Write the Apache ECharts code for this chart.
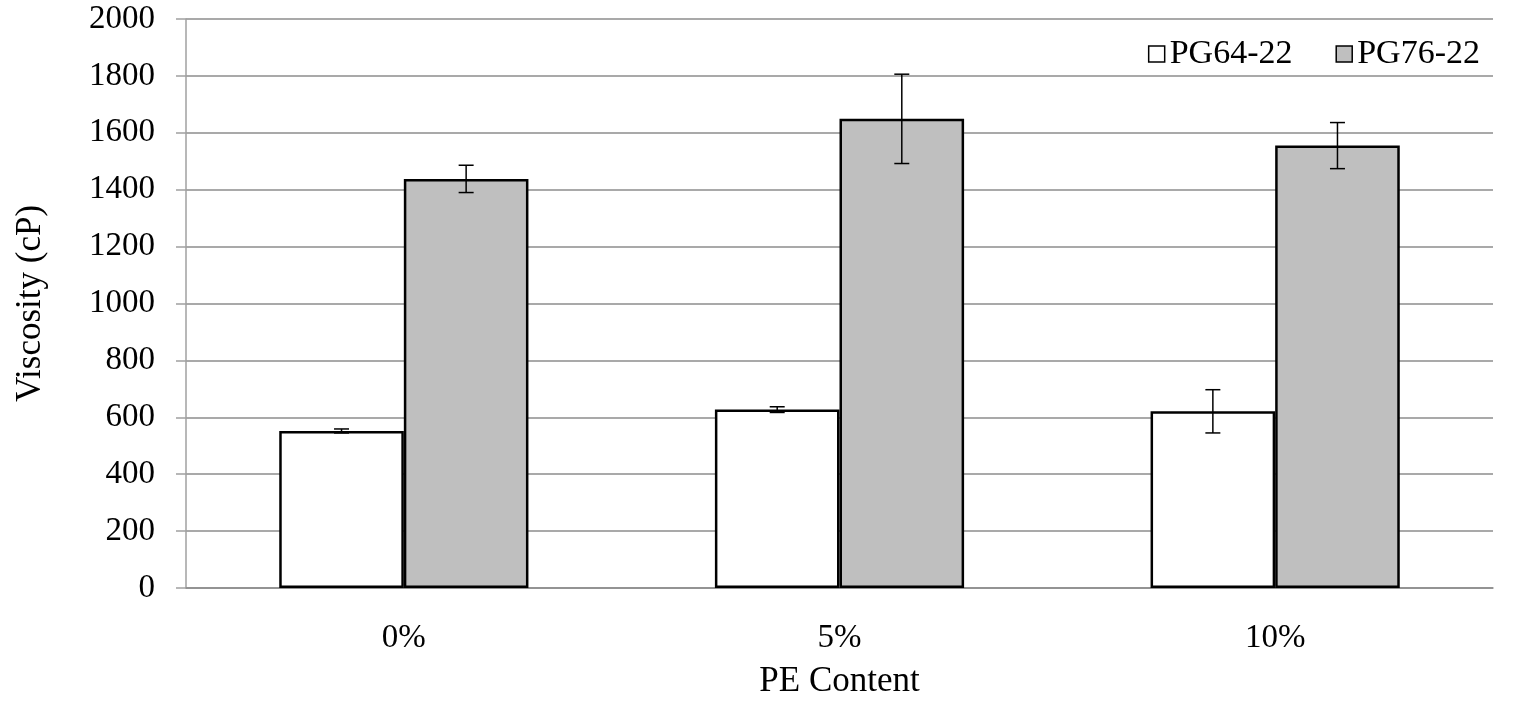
<!DOCTYPE html>
<html>
<head>
<meta charset="utf-8">
<script src="https://cdn.jsdelivr.net/npm/echarts@6/dist/echarts.min.js"></script>
<style>
html,body{margin:0;padding:0;background:#fff;}
#chart{width:1522px;height:704px;}
</style>
</head>
<body>
<div id="chart"></div>
<script>
const categories = ['0%', '5%', '10%'];
const seriesNames = ['PG64-22', 'PG76-22'];
const pg6422 = [552, 627, 621];
const pg6422Err = [7, 10, 76];
const pg7622 = [1438, 1649, 1555];
const pg7622Err = [48, 157, 81];
const yTicks = [0, 200, 400, 600, 800, 1000, 1200, 1400, 1600, 1800, 2000];

const FONT = 'Liberation Serif';
const BAR_FRAC = 0.286;

function errData(vals, errs) {
  return vals.map((v, i) => [i, v - errs[i], v + errs[i]]);
}

function makeErrRender(side) {
  return function (params, api) {
    const idx = api.value(0);
    const lo = api.coord([idx, api.value(1)]);
    const hi = api.coord([idx, api.value(2)]);
    const bw = api.size([1, 0])[0] * BAR_FRAC;
    const x = lo[0] + side * bw / 2;
    const cap = 7.5;
    const style = { stroke: '#000', lineWidth: 1.5 };
    return {
      type: 'group',
      children: [
        { type: 'line', shape: { x1: x, y1: lo[1], x2: x, y2: hi[1] }, style: style },
        { type: 'line', shape: { x1: x - cap, y1: lo[1], x2: x + cap, y2: lo[1] }, style: style },
        { type: 'line', shape: { x1: x - cap, y1: hi[1], x2: x + cap, y2: hi[1] }, style: style }
      ]
    };
  };
}

const chart = echarts.init(document.getElementById('chart'));
chart.setOption({
  animation: false,
  backgroundColor: '#fff',
  grid: { left: 186, right: 29, top: 19, bottom: 115, containLabel: false },
  legend: {
    right: 37,
    top: 32,
    itemWidth: 16,
    itemHeight: 16,
    itemGap: 43,
    textStyle: { fontFamily: FONT, fontSize: 34, color: '#000' },
    data: [
      { name: seriesNames[0], icon: 'rect', itemStyle: { color: '#fff', borderColor: '#000', borderWidth: 1.5 } },
      { name: seriesNames[1], icon: 'rect', itemStyle: { color: '#bfbfbf', borderColor: '#000', borderWidth: 1.5 } }
    ]
  },
  xAxis: {
    type: 'category',
    data: categories,
    name: 'PE Content',
    nameLocation: 'middle',
    nameGap: 76,
    nameTextStyle: { fontFamily: FONT, fontSize: 35, color: '#000' },
    axisLine: { lineStyle: { color: '#8c8c8c', width: 1.5 } },
    axisTick: { show: false },
    axisLabel: { fontFamily: FONT, fontSize: 33, color: '#000', margin: 34 }
  },
  yAxis: {
    type: 'value',
    min: yTicks[0],
    max: yTicks[yTicks.length - 1],
    interval: yTicks[1] - yTicks[0],
    name: 'Viscosity (cP)',
    nameLocation: 'middle',
    nameGap: 138,
    nameTextStyle: { fontFamily: FONT, fontSize: 35, color: '#000' },
    axisLine: { show: true, lineStyle: { color: '#a0a0a0', width: 1.5 } },
    axisTick: { show: true, length: 10, lineStyle: { color: '#a0a0a0', width: 1.5 } },
    axisLabel: { fontFamily: FONT, fontSize: 33, color: '#000', margin: 31, formatter: function (v) { return String(v); } },
    splitLine: { show: true, lineStyle: { color: '#8c8c8c', width: 1.5 } }
  },
  series: [
    {
      name: seriesNames[0],
      type: 'bar',
      data: pg6422,
      barWidth: (BAR_FRAC * 100) + '%',
      barGap: '0%',
      itemStyle: { color: '#fff', borderColor: '#000', borderWidth: 2.5 }
    },
    {
      name: seriesNames[1],
      type: 'bar',
      data: pg7622,
      barWidth: (BAR_FRAC * 100) + '%',
      barGap: '0%',
      itemStyle: { color: '#bfbfbf', borderColor: '#000', borderWidth: 2.5 }
    },
    {
      type: 'custom',
      name: 'err64',
      renderItem: makeErrRender(-1),
      data: errData(pg6422, pg6422Err),
      encode: { x: 0, y: [1, 2] },
      z: 10,
      silent: true
    },
    {
      type: 'custom',
      name: 'err76',
      renderItem: makeErrRender(1),
      data: errData(pg7622, pg7622Err),
      encode: { x: 0, y: [1, 2] },
      z: 10,
      silent: true
    }
  ]
});
</script>
</body>
</html>
